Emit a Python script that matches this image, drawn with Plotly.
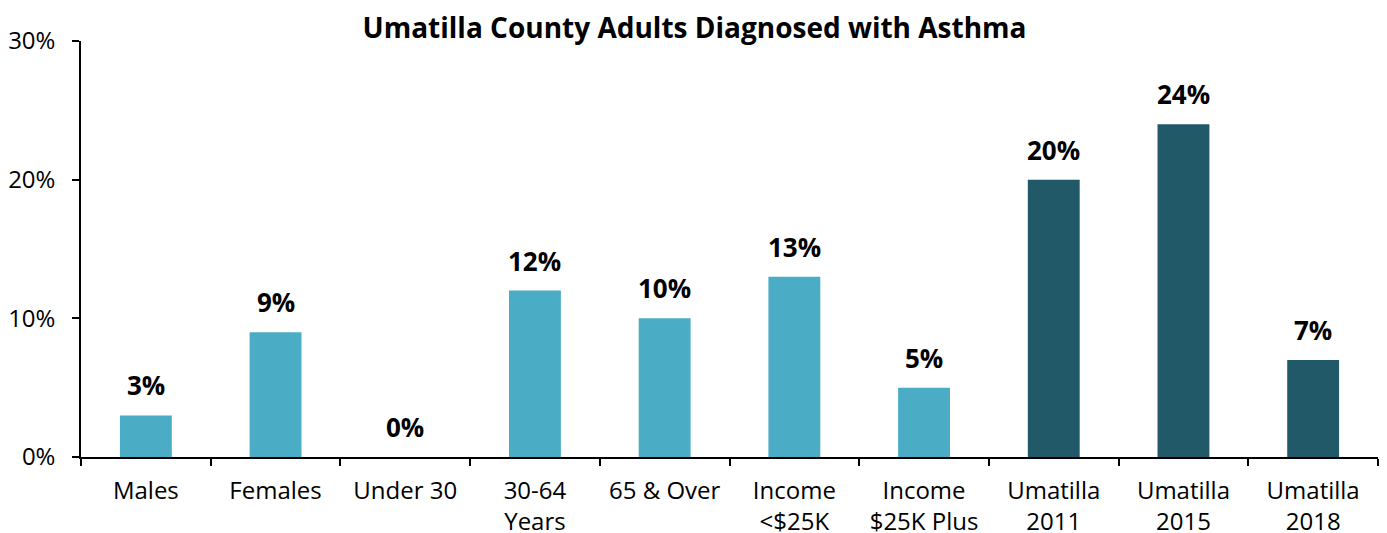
import plotly.graph_objects as go

categories = ["Males", "Females", "Under 30", "30-64<br>Years", "65 & Over",
              "Income<br><$25K", "Income<br>$25K Plus", "Umatilla<br>2011",
              "Umatilla<br>2015", "Umatilla<br>2018"]
values = [0.03, 0.09, 0.00, 0.12, 0.10, 0.13, 0.05, 0.20, 0.24, 0.07]
value_labels = ["3%", "9%", "0%", "12%", "10%", "13%", "5%", "20%", "24%", "7%"]
light = "#4BACC6"
dark = "#215968"
colors = [light] * 7 + [dark] * 3

FONT = "Open Sans"

fig = go.Figure()
fig.add_trace(go.Bar(x=categories, y=values, marker=dict(color=colors, line=dict(width=0)),
                     hoverinfo="skip"))

for c, v, t in zip(categories, values, value_labels):
    fig.add_annotation(x=c, y=v, text="<b>%s</b>" % t, showarrow=False,
                       yanchor="bottom", yshift=10,
                       font=dict(family=FONT, size=26, color="#000000"))

fig.update_layout(
    width=1387, height=533,
    margin=dict(l=73, r=17, t=33, b=84, autoexpand=False),
    paper_bgcolor="white", plot_bgcolor="white",
    bargap=0.6,
    showlegend=False,
    title=dict(text="<b>Umatilla County Adults Diagnosed with Asthma</b>",
               x=(362 + 1027) / 2 / 1387 - 8 / 1387, xanchor="center",
               y=1 - 20 / 533, yanchor="middle",
               font=dict(family=FONT, size=28, color="#000000")),
    font=dict(family=FONT, size=24, color="#000000"),
)
fig.update_xaxes(type="category", showline=True, linecolor="#000000", linewidth=1.5,
                 ticks="outside", tickson="boundaries", ticklen=7, tickcolor="#000000",
                 tickwidth=1.5, showgrid=False, ticklabelstandoff=11, automargin=False,
                 tickfont=dict(family=FONT, size=24, color="#000000"))
fig.update_yaxes(range=[0, 0.30], tickvals=[0, 0.1, 0.2, 0.3], tickformat=".0%",
                 showline=True, linecolor="#000000", linewidth=1.5, ticks="outside",
                 ticklen=7, tickcolor="#000000", tickwidth=1.5, showgrid=False,
                 zeroline=False, ticklabelstandoff=12, automargin=False,
                 tickfont=dict(family=FONT, size=24, color="#000000"))

fig.write_html("out.html")
